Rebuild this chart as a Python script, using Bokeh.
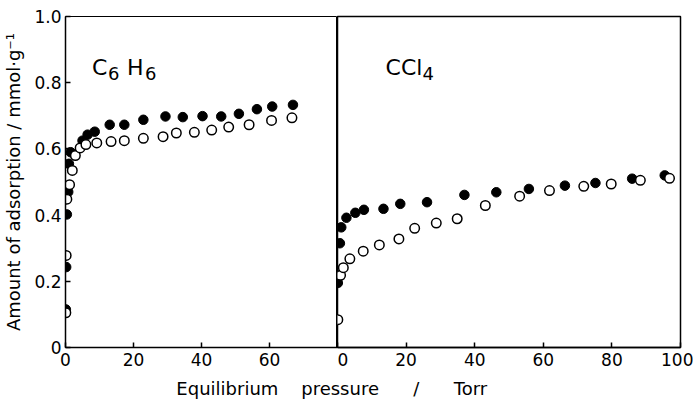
from bokeh.plotting import figure
from bokeh.layouts import column, row
from bokeh.models import Range1d, FixedTicker, Label
from bokeh.embed import file_html
from bokeh.resources import INLINE

# ---------------- data ----------------
# C6H6 panel (pressure / Torr, amount / mmol g-1)
c6h6_filled_x = [0.1, 0.2, 0.4, 0.8, 1.0, 1.5, 5.0, 6.5, 8.6, 13.0, 17.3, 22.9, 29.4, 34.5, 40.3, 45.8, 51.0, 56.3, 60.8, 66.9]
c6h6_filled_y = [0.115, 0.243, 0.402, 0.47, 0.555, 0.59, 0.625, 0.643, 0.652, 0.673, 0.673, 0.688, 0.698, 0.696, 0.699, 0.698, 0.706, 0.72, 0.728, 0.733]
c6h6_open_x = [0.1, 0.2, 0.4, 1.2, 2.0, 2.9, 4.3, 6.0, 9.2, 13.4, 17.3, 22.9, 28.7, 32.6, 37.9, 43.0, 48.0, 54.0, 60.6, 66.6]
c6h6_open_y = [0.105, 0.278, 0.448, 0.492, 0.535, 0.58, 0.603, 0.613, 0.618, 0.622, 0.625, 0.632, 0.637, 0.648, 0.65, 0.657, 0.666, 0.673, 0.686, 0.694]

# CCl4 panel
ccl4_filled_x = [0.1, 0.7, 1.1, 2.6, 5.2, 7.7, 13.4, 18.3, 26.1, 37.0, 46.3, 55.8, 66.3, 75.2, 85.9, 95.4]
ccl4_filled_y = [0.195, 0.315, 0.363, 0.392, 0.407, 0.416, 0.419, 0.434, 0.439, 0.461, 0.469, 0.479, 0.489, 0.497, 0.51, 0.52]
ccl4_open_x = [0.1, 0.9, 1.7, 3.6, 7.5, 12.2, 17.9, 22.5, 28.8, 34.9, 43.1, 53.1, 61.8, 71.8, 79.8, 88.3, 96.8]
ccl4_open_y = [0.084, 0.218, 0.241, 0.268, 0.291, 0.31, 0.328, 0.36, 0.376, 0.389, 0.429, 0.457, 0.474, 0.487, 0.494, 0.505, 0.511]

y_ticks = [0, 0.2, 0.4, 0.6, 0.8, 1.0]
y_tick_labels = ["0", "0.2", "0.4", "0.6", "0.8", "1.0"]
c6h6_x_ticks = [0, 20, 40, 60]
ccl4_x_ticks = [0, 20, 40, 60, 80, 100]

FONT = "DejaVu Sans"
NB = "\u00a0"


def style(p, xticks, outline_w):
    p.grid.visible = False
    p.outline_line_color = "black"
    p.outline_line_width = outline_w
    p.background_fill_color = "white"
    p.border_fill_color = "white"
    for ax in p.axis:
        ax.axis_line_width = 1.5
        ax.axis_line_color = "black"
        ax.major_tick_in = 5
        ax.major_tick_out = 0
        ax.major_tick_line_width = 1.5
        ax.minor_tick_in = 0
        ax.minor_tick_out = 0
        ax.major_label_text_font = FONT
        ax.major_label_text_font_size = "17px"
        ax.major_label_text_color = "black"
    p.xaxis.ticker = FixedTicker(ticks=xticks)
    p.xaxis.major_label_standoff = 5


def formula(p, x, y, parts):
    # parts: list of (text, is_subscript, x pixel offset)
    for txt, sub, dx in parts:
        p.add_layout(Label(x=x, y=y, x_offset=dx, y_offset=-6 if sub else 0, text=txt,
                           text_font=FONT, text_font_size="18px" if sub else "22px",
                           text_baseline="alphabetic", text_color="black"))


y_range = Range1d(0, 1.0)

p1 = figure(width=337, height=377, x_range=Range1d(0, 80), y_range=y_range,
            min_border_left=61, min_border_right=0, min_border_top=16, min_border_bottom=30,
            output_backend="svg", toolbar_location=None)
style(p1, c6h6_x_ticks, 1.0)
p1.yaxis.ticker = FixedTicker(ticks=y_ticks)
p1.yaxis.major_label_overrides = {t: l for t, l in zip(y_ticks, y_tick_labels)}
p1.yaxis.major_label_standoff = 4
p1.yaxis.axis_label = "Amount of adsorption / mmol\u00b7g\u207b\u00b9"
p1.yaxis.axis_label_text_font = FONT
p1.yaxis.axis_label_text_font_size = "18px"
p1.yaxis.axis_label_text_font_style = "normal"
p1.yaxis.axis_label_text_color = "black"
p1.yaxis.axis_label_standoff = 7

p1.scatter(c6h6_filled_x, c6h6_filled_y, size=9.5, fill_color="black", line_color="black")
p1.scatter(c6h6_open_x, c6h6_open_y, size=9.5, fill_color="white", line_color="black", line_width=1.5)
formula(p1, 7.8, 0.845, [("C", False, 0), ("6", True, 16), ("H", False, 35), ("6", True, 53)])

p2 = figure(width=356, height=377, x_range=Range1d(0, 100), y_range=y_range,
            min_border_left=0, min_border_right=13, min_border_top=16, min_border_bottom=30,
            output_backend="svg", toolbar_location=None)
style(p2, ccl4_x_ticks, 1.5)
p2.yaxis.visible = False
p2.scatter(ccl4_filled_x, ccl4_filled_y, size=9.5, fill_color="black", line_color="black")
p2.scatter(ccl4_open_x, ccl4_open_y, size=9.5, fill_color="white", line_color="black", line_width=1.5)
formula(p2, 14.0, 0.845, [("CCl", False, 0), ("4", True, 37)])

p3 = figure(width=693, height=22, x_range=Range1d(0, 1), y_range=Range1d(0, 1),
            min_border=0, output_backend="svg", toolbar_location=None)
p3.axis.visible = False
p3.grid.visible = False
p3.outline_line_color = None
title = "Equilibrium" + NB * 3 + " pressure" + NB * 5 + " /" + NB * 5 + " Torr"
p3.add_layout(Label(x=0.478, y=0.5, text=title,
                    text_font=FONT, text_font_size="18px", text_align="center",
                    text_baseline="middle", text_color="black"))

layout = column(row(p1, p2), p3)
open("out.html", "w").write(file_html(layout, INLINE))
